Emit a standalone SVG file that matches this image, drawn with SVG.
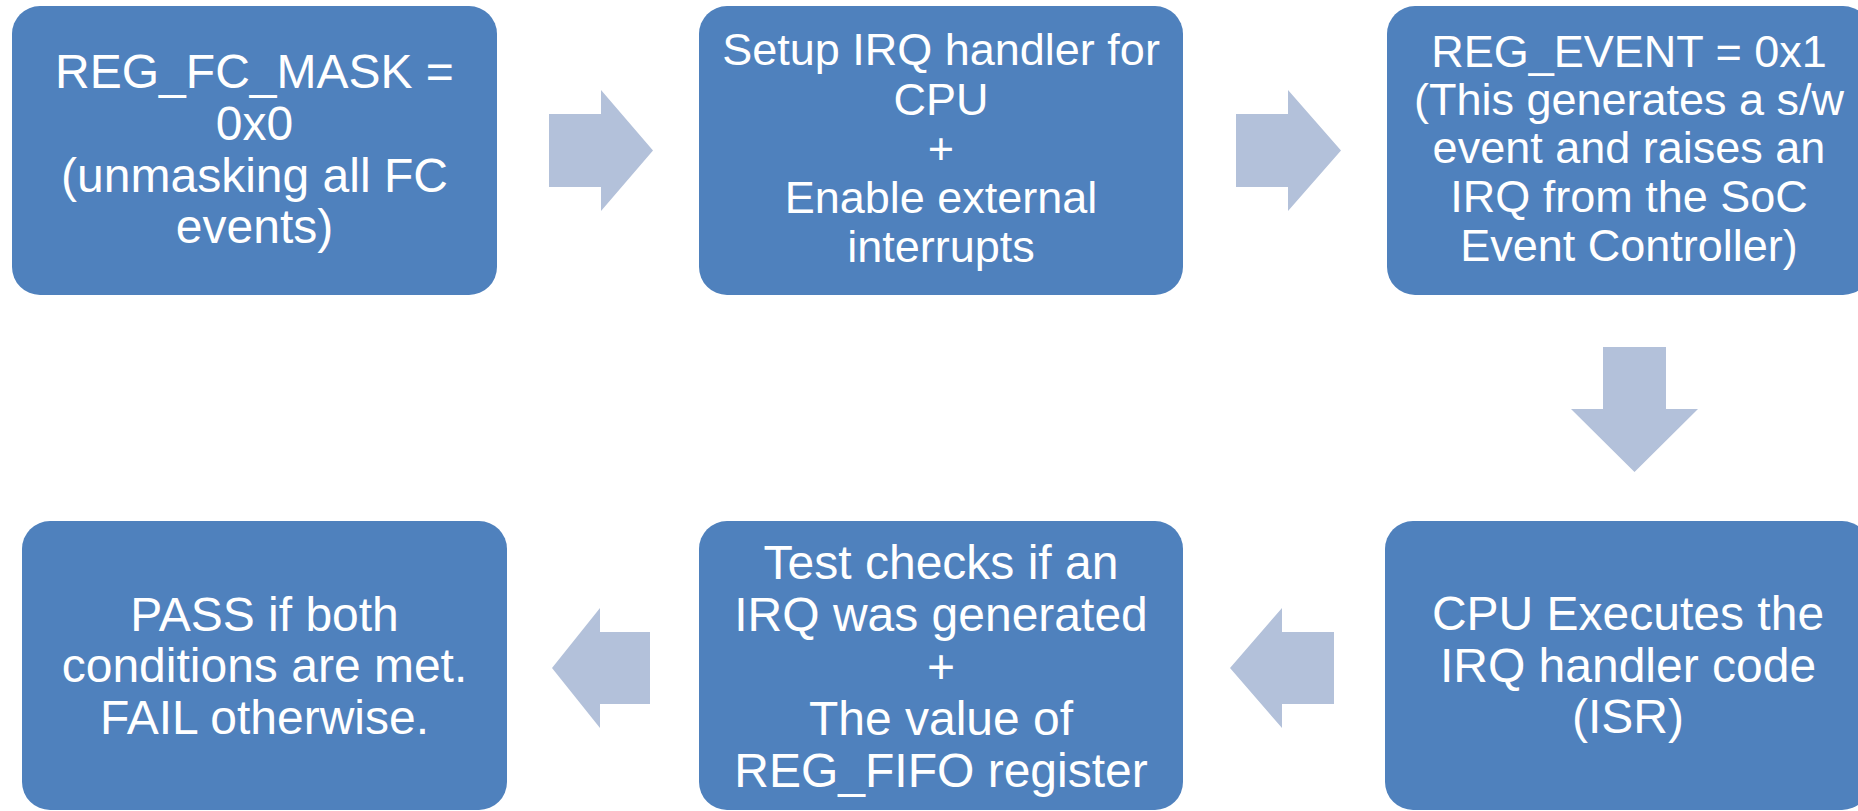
<svg xmlns="http://www.w3.org/2000/svg" width="1858" height="811" viewBox="0 0 1858 811">
<style>
.box{fill:#4F81BD;}
.arr{fill:#B3C1DA;}
text{font-family:"Liberation Sans",Arial,sans-serif;fill:#FFFFFF;text-anchor:middle;}
.f48{font-size:48px;}
.f45{font-size:45px;}
</style>
<rect width="1858" height="811" fill="#FFFFFF"/>
<g id="connectors">
<polygon class="arr" points="549,114 601,114 601,90 653,150.5 601,211 601,187 549,187"/>
<polygon class="arr" points="1236,114 1288,114 1288,90 1341,150.5 1288,211 1288,187 1236,187"/>
<polygon class="arr" points="1603,347 1666,347 1666,409 1698,409 1634.5,472 1571,409 1603,409"/>
<polygon class="arr" points="1334,632 1282,632 1282,608 1230,668 1282,728 1282,704 1334,704"/>
<polygon class="arr" points="650,632 600,632 600,608 552,668 600,728 600,704 650,704"/>
</g>
<g id="node1">
<rect class="box" x="12" y="6" width="485" height="289" rx="28"/>
<text class="f48" x="254.5" y="88">REG_FC_MASK =</text>
<text class="f48" x="254.5" y="140">0x0</text>
<text class="f48" x="254.5" y="192">(unmasking all FC</text>
<text class="f48" x="254.5" y="243">events)</text>
</g>
<g id="node2">
<rect class="box" x="699" y="6" width="484" height="289" rx="28"/>
<text class="f45" x="941" y="65">Setup IRQ handler for</text>
<text class="f45" x="941" y="115">CPU</text>
<text class="f45" x="941" y="164">+</text>
<text class="f45" x="941" y="213">Enable external</text>
<text class="f45" x="941" y="262">interrupts</text>
</g>
<g id="node3">
<rect class="box" x="1387" y="6" width="484" height="289" rx="28"/>
<text class="f45" x="1629" y="67">REG_EVENT = 0x1</text>
<text class="f45" x="1629" y="115">(This generates a s/w</text>
<text class="f45" x="1629" y="163">event and raises an</text>
<text class="f45" x="1629" y="212">IRQ from the SoC</text>
<text class="f45" x="1629" y="261">Event Controller)</text>
</g>
<g id="node4">
<rect class="box" x="22" y="521" width="485" height="289" rx="28"/>
<text class="f48" x="264.5" y="631">PASS if both</text>
<text class="f48" x="264.5" y="682">conditions are met.</text>
<text class="f48" x="264.5" y="734">FAIL otherwise.</text>
</g>
<g id="node5">
<rect class="box" x="699" y="521" width="484" height="289" rx="28"/>
<text class="f48" x="941" y="579">Test checks if an</text>
<text class="f48" x="941" y="631">IRQ was generated</text>
<text class="f48" x="941" y="683">+</text>
<text class="f48" x="941" y="735">The value of</text>
<text class="f48" x="941" y="787">REG_FIFO register</text>
</g>
<g id="node6">
<rect class="box" x="1385" y="521" width="485" height="289" rx="28"/>
<text class="f48" x="1628" y="630">CPU Executes the</text>
<text class="f48" x="1628" y="682">IRQ handler code</text>
<text class="f48" x="1628" y="733">(ISR)</text>
</g>
</svg>
